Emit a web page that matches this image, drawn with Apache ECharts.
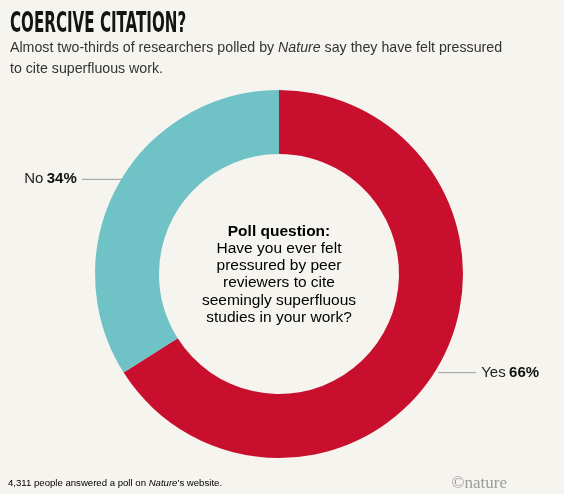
<!DOCTYPE html>
<html>
<head>
<meta charset="utf-8">
<script src="https://cdn.jsdelivr.net/npm/echarts@6/dist/echarts.min.js"></script>
<style>
  html, body { margin: 0; padding: 0; background: #f6f4ef; }
  #chart { width: 564px; height: 494px; }
</style>
</head>
<body>
<div id="chart"></div>
<script>
// poll answers, share of respondents (%)
const answers = ['Yes', 'No']
const shares = [66, 34]
const colors = ['#c8102e', '#6fc2c6']

const chart = echarts.init(document.getElementById('chart'))

const sansFont = '"Liberation Sans", Arial, sans-serif'
// small vertical nudge of the outside labels (Yes, No)
const labelShift = [10, -6]
// pull the guide line back onto the ring after the nudge
const lineReach = [-2, 4]

const option = {
  backgroundColor: '#f6f4ef',
  animation: false,
  graphic: [
    {
      type: 'text',
      x: 10,
      y: 11,
      scaleX: 0.6,
      style: {
        text: 'COERCIVE CITATION?',
        font: 'bold 28px "DejaVu Sans Condensed", "DejaVu Sans", sans-serif',
        fill: '#141414'
      }
    },
    {
      type: 'text',
      x: 10,
      y: 38,
      style: {
        text: '{a|Almost two-thirds of researchers polled by }{i|Nature}{a| say they have felt pressured}\n{a|to cite superfluous work.}',
        fill: '#333',
        rich: {
          a: { fontSize: 14.2, fontFamily: sansFont, color: '#333', lineHeight: 21 },
          i: { fontSize: 14.2, fontFamily: sansFont, fontStyle: 'italic', color: '#333', lineHeight: 21 }
        }
      }
    },
    {
      type: 'text',
      x: 279,
      y: 274.5,
      style: {
        text: '{b|Poll question:}\n{a|Have you ever felt}\n{a|pressured by peer}\n{a|reviewers to cite}\n{a|seemingly superfluous}\n{a|studies in your work?}',
        align: 'center',
        verticalAlign: 'middle',
        rich: {
          b: { fontSize: 15.5, fontWeight: 'bold', fontFamily: sansFont, color: '#111', lineHeight: 17.2, align: 'center' },
          a: { fontSize: 15.5, fontFamily: sansFont, color: '#222', lineHeight: 17.2, align: 'center' }
        }
      }
    },
    {
      type: 'text',
      x: 8,
      y: 478,
      style: {
        text: '{a|4,311 people answered a poll on }{i|Nature}{a|\u2019s website.}',
        rich: {
          a: { fontSize: 9.6, fontFamily: sansFont, color: '#333' },
          i: { fontSize: 9.6, fontFamily: sansFont, fontStyle: 'italic', color: '#333' }
        }
      }
    },
    {
      type: 'text',
      x: 507,
      y: 475,
      style: {
        text: '\u00a9nature',
        align: 'right',
        font: '17px "Liberation Serif", "DejaVu Serif", serif',
        fill: '#9a9a9a'
      }
    }
  ],
  series: [
    {
      type: 'pie',
      center: [279, 274],
      radius: [120, 184],
      startAngle: 90,
      clockwise: true,
      silent: true,
      data: answers.map((name, i) => ({
        name,
        value: shares[i],
        itemStyle: { color: colors[i] }
      })),
      label: {
        show: true,
        position: 'outside',
        formatter: '{n|{b}} {p|{c}%}',
        rich: {
          n: { fontSize: 15, fontFamily: sansFont, color: '#222' },
          p: { fontSize: 15, fontFamily: sansFont, fontWeight: 'bold', color: '#111' }
        }
      },
      labelLine: {
        show: true,
        length: 0,
        length2: 36,
        lineStyle: { color: '#9a9a9a', width: 1 }
      },
      labelLayout: (params) => {
        const i = params.dataIndex
        const dy = labelShift[i]
        const pts = params.labelLinePoints
        const out = { dy }
        if (pts) {
          out.labelLinePoints = pts.map((p, k) => [
            k < pts.length - 1 ? p[0] + lineReach[i] : p[0],
            p[1] + dy
          ])
        }
        return out
      }
    }
  ]
}

chart.setOption(option)
</script>
</body>
</html>
